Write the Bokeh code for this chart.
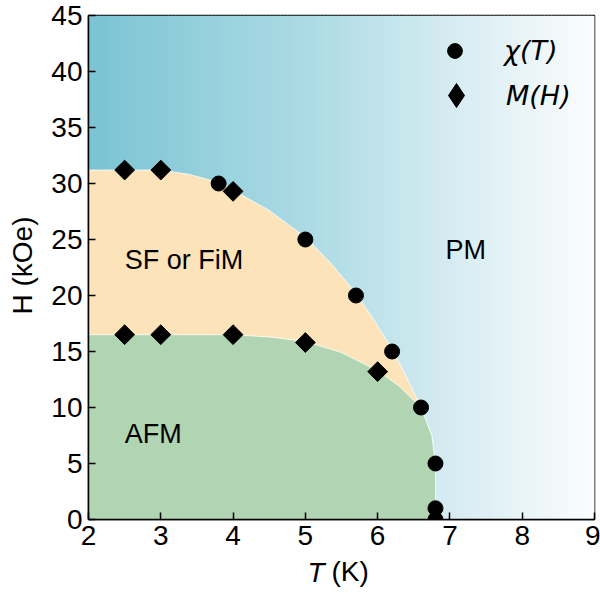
import numpy as np
from bokeh.plotting import figure
from bokeh.models import Range1d, Label, Legend, LegendItem
from bokeh.embed import file_html
from bokeh.resources import INLINE

# ---- data ----
chi_T = [3.8, 5.0, 5.7, 6.2, 6.6, 6.8, 6.8, 6.8]
chi_H = [30.0, 25.0, 20.0, 15.0, 10.0, 5.0, 1.0, 0.0]

mh_T = [2.5, 3.0, 4.0, 2.5, 3.0, 4.0, 5.0, 6.0]
mh_H = [31.2, 31.2, 29.3, 16.5, 16.5, 16.5, 15.8, 13.2]

# phase boundaries (SF/FiM upper edge and AFM edge)
sf_T = [2.0, 3.0, 3.4, 3.8, 4.0, 4.5, 5.0, 5.35, 5.7, 5.95, 6.2, 6.4, 6.6, 6.75, 6.8, 6.8]
sf_H = [31.2, 31.2, 30.8, 30.1, 29.4, 27.6, 25.2, 22.9, 20.2, 17.8, 15.2, 12.7, 10.0, 7.5, 5.0, 0.0]
afm_T = [2.0, 4.0, 4.5, 5.0, 5.5, 6.0, 6.3, 6.6, 6.75, 6.8, 6.8]
afm_H = [16.5, 16.5, 16.3, 15.9, 14.9, 13.3, 11.9, 10.0, 7.5, 5.0, 0.0]

x_ticks = [2, 3, 4, 5, 6, 7, 8, 9]
y_ticks = [0, 5, 10, 15, 20, 25, 30, 35, 40, 45]

TICK_FONT = "Liberation Sans"
MATH_FONT = "DejaVu Sans"
FS = "28px"
FS_LBL = "27px"

p = figure(width=600, height=593, output_backend="svg", toolbar_location=None,
           x_range=Range1d(2, 9), y_range=Range1d(0, 45),
           min_border_left=88, min_border_right=6, min_border_top=15, min_border_bottom=74)
p.background_fill_color = "white"
p.border_fill_color = "white"
p.grid.visible = False
p.outline_line_color = "black"
p.outline_line_width = 1.5

# ---- background gradient (PM region) ----
n = 140
edges = np.linspace(2, 9, n + 1)
mid = 0.5 * (edges[:-1] + edges[1:])
stops_x = [2.0, 5.5, 7.0, 9.0]
stops_c = np.array([[123, 196, 211], [181, 223, 232], [214, 236, 242], [252, 253, 254]], dtype=float)
cols = []
for m in mid:
    r = np.interp(m, stops_x, stops_c[:, 0])
    g = np.interp(m, stops_x, stops_c[:, 1])
    b = np.interp(m, stops_x, stops_c[:, 2])
    cols.append("#%02x%02x%02x" % (int(r), int(g), int(b)))
p.quad(left=edges[:-1], right=edges[1:] + 0.01, bottom=0, top=45, fill_color=cols, line_color=None)

# ---- phase regions ----
p.patch(sf_T + [2.0], sf_H + [0.0], fill_color="#fde3b9", line_color="white", line_alpha=0.8, line_width=1)
p.patch(afm_T + [2.0], afm_H + [0.0], fill_color="#b1d5b3", line_color="white", line_alpha=0.8, line_width=1)

# ---- data points ----
r_chi = p.scatter(chi_T, chi_H, marker="circle", size=15, fill_color="black", line_color="black")
r_mh = p.scatter(mh_T, mh_H, marker="square", size=14, angle=np.pi / 4, fill_color="black", line_color="black")
# legend key for M(H): legend keys ignore glyph angle, so use a hidden diamond-marker twin
r_mh_key = p.scatter(mh_T, mh_H, marker="diamond", size=14, fill_color="black", line_color="black")
r_mh_key.visible = False

# ---- legends ----
common = dict(orientation="vertical", padding=0, margin=0, border_line_color=None,
              background_fill_alpha=0, label_text_font=MATH_FONT, label_text_font_style="italic",
              label_text_font_size=FS_LBL, label_text_color="black", click_policy="none")
leg1 = Legend(items=[LegendItem(label="χ(T)", renderers=[r_chi])], location=(348, 450),
              glyph_width=37, glyph_height=37, label_standoff=31, **common)
leg2 = Legend(items=[LegendItem(label="M(H)", renderers=[r_mh_key])], location=(338, 394),
              glyph_width=60, glyph_height=60, label_standoff=20, **common)
p.add_layout(leg1, "center")
p.add_layout(leg2, "center")

# ---- axes ----
for ax in (p.xaxis[0], p.yaxis[0]):
    ax.major_label_text_font = TICK_FONT
    ax.major_label_text_font_size = FS
    ax.major_label_text_color = "black"
    ax.major_tick_in = 7
    ax.major_tick_out = 0
    ax.minor_tick_line_color = None
    ax.major_tick_line_color = "black"
    ax.major_tick_line_width = 1.5
    ax.axis_line_color = "black"
    ax.axis_line_width = 1.5
    ax.major_label_standoff = 6
p.xaxis.ticker = x_ticks
p.yaxis.ticker = y_ticks

# ---- axis titles: placed in side panels (not clipped by the frame) ----
def title_label(text, x, y, italic, align, angle=0.0):
    return Label(x=x, y=y, x_units="screen", y_units="screen", text=text, angle=angle,
                 text_font=TICK_FONT, text_font_style="italic" if italic else "normal",
                 text_font_size=FS, text_align=align, text_baseline="alphabetic",
                 text_color="black")

p.add_layout(title_label("H (kOe)", 5, 254, False, "center", np.pi / 2), "left")
p.add_layout(title_label("T", 324, -53, True, "right"), "left")
p.add_layout(title_label("(K)", 243, 7, False, "left"), "below")

# ---- region labels ----
for txt, tx, ty in [("SF or FiM", 2.5, 23.2), ("AFM", 2.5, 7.6), ("PM", 6.94, 24.1)]:
    p.add_layout(Label(x=tx, y=ty, text=txt, text_font=TICK_FONT, text_font_size=FS_LBL,
                       text_align="left", text_baseline="alphabetic", text_color="black"))

open("out.html", "w").write(file_html(p, INLINE))
